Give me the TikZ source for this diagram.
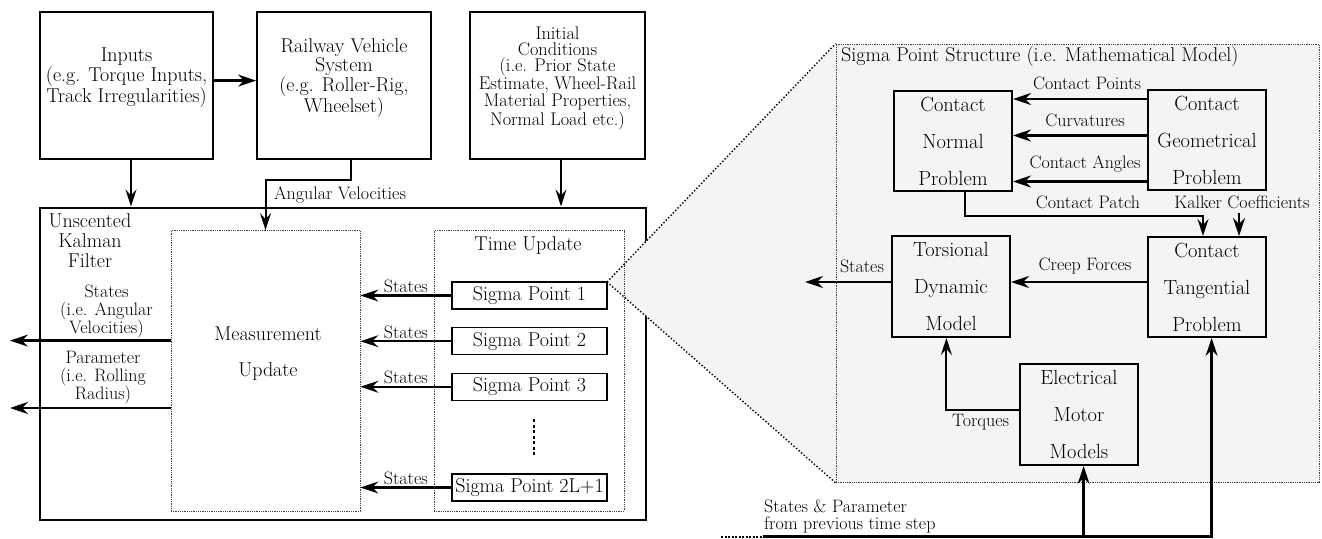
\documentclass[tikz,border=0pt]{standalone}
\usetikzlibrary{arrows.meta}
\definecolor{zoomgray}{RGB}{244,244,244}
\newcommand{\fntTop}{\fontsize{20}{16}\selectfont}
\newcommand{\fntInit}{\fontsize{18.3}{16.1}\selectfont}
\newcommand{\fntRight}{\fontsize{20.5}{37}\selectfont}
\newcommand{\fntMain}{\fontsize{20}{20}\selectfont}
\newcommand{\fntMeas}{\fontsize{20}{36}\selectfont}
\newcommand{\fntLbl}{\fontsize{18}{18}\selectfont}
\begin{document}
\begin{tikzpicture}[x=1pt,y=-1pt,
  box/.style={draw, line width=2pt, inner sep=0pt, align=center},
  spbox/.style={draw, line width=1.3pt, inner sep=0pt, fill=white, font=\fntTop,
     minimum width=155pt, minimum height=27pt},
  dotbox/.style={draw=black!75, densely dotted, line width=0.8pt, inner sep=0pt},
  txt/.style={inner sep=0pt, align=center},
  lbl/.style={inner sep=0pt, align=center, font=\fntLbl},
  arr/.style={-{Stealth[length=18pt,width=12pt,inset=6pt]}, line width=2.4pt},
  arrthin/.style={-{Stealth[length=17pt,width=11pt,inset=6pt]}, line width=2pt},
  zoomline/.style={line width=1.4pt, dash pattern=on 1.4pt off 2pt}
]
\useasboundingbox (0,0) rectangle (1322,538);

% ---------- top boxes ----------
\node[box, minimum width=173pt, minimum height=147pt] (inputs) at (126.5,85.5) {};
\node[txt, font=\fntTop] (inputsT) at (126.5,78) {Inputs\\(e.g. Torque Inputs,\\Track Irregularities)};
\node[box, minimum width=174pt, minimum height=147pt] (rail) at (344,85.5) {};
\node[txt, font=\fntTop] (railT) at (344,78) {Railway Vehicle\\System\\(e.g. Roller-Rig,\\Wheelset)};
\node[box, minimum width=175pt, minimum height=147pt] (init) at (557.5,85.5) {};
\node[txt, font=\fntInit] (initT) at (557.5,78) {Initial\\Conditions\\(i.e. Prior State\\Estimate, Wheel-Rail\\Material Properties,\\Normal Load etc.)};

% ---------- UKF ----------
\node[box, minimum width=606pt, minimum height=312.5pt] (ukf) at (343,363.75) {};
\node[txt, font=\fntMain] (ukfT) at (90,241) {Unscented\\Kalman\\Filter};

% ---------- zoom region ----------
\coordinate (apex) at (607,282);
\coordinate (spsNW) at (836,44);
\coordinate (spsSW) at (836,482.5);
\fill[zoomgray] (apex) -- (spsNW) -- (spsSW) -- cycle;
\node[dotbox, fill=zoomgray, minimum width=483pt, minimum height=438.5pt] (sps) at (1077.5,263.25) {};
\draw[zoomline] (apex) -- (sps.north west);
\draw[zoomline] (apex) -- (sps.south west);
\node[txt, font=\fntTop, anchor=west] (spsT) at (841,57) {Sigma Point Structure (i.e. Mathematical Model)};

% ---------- measurement / time update ----------
\node[dotbox, minimum width=189pt, minimum height=280.5pt] (meas) at (265.5,370.75) {};
\node[txt, font=\fntMeas] (measT) at (268,354) {Measurement\\Update};
\node[dotbox, minimum width=190pt, minimum height=280.5pt] (tu) at (529,370.75) {};
\node[txt, font=\fntTop] (tuT) at (528,246) {Time Update};

\node[spbox] (sp1) at (529.5,295.5) {Sigma Point 1};
\node[spbox] (sp2) at (529.5,341.25) {Sigma Point 2};
\node[spbox] (sp3) at (529.5,386.75) {Sigma Point 3};
\node[spbox] (spn) at (529.5,487.5) {Sigma Point 2L+1};
\draw[line width=2pt, dash pattern=on 3pt off 2.5pt] (534,419) -- (534,456);

\foreach \s in {sp1,sp2,sp3,spn}{
  \draw[arr] (\s.west) -- (meas.east |- \s.west) node[midway, above=1.5pt, lbl] {States};
}

% ---------- top connectors ----------
\coordinate (yA) at (0,80.6);
\draw[arr] (inputs.east |- yA) -- (rail.west |- yA);
\coordinate (xIn) at (131,0);
\draw[arrthin] (inputs.south -| xIn) -- (ukf.north -| xIn);
\coordinate (xRl) at (350.6,0);
\coordinate (yBend) at (0,180);
\draw[arrthin] (rail.south -| xRl) |- (meas.north |- yBend) -- (meas.north);
\node[lbl, anchor=west] (angT) at (274,195) {Angular Velocities};
\coordinate (xIc) at (561,0);
\draw[arrthin] (init.south -| xIc) -- (ukf.north -| xIc);

% ---------- outputs ----------
\coordinate (outS) at (10,340.6);
\coordinate (outP) at (10,408);
\draw[arr] (meas.west |- outS) -- (outS);
\draw[arr] (meas.west |- outP) -- (outP);
\node[lbl] (outST) at (106.5,311) {States\\(i.e. Angular\\Velocities)};
\node[lbl] (outPT) at (103,378) {Parameter\\(i.e. Rolling\\Radius)};

% ---------- right blocks ----------
\node[box, font=\fntRight, minimum width=118pt, minimum height=100pt] (cn) at (953,141) {Contact\\Normal\\Problem};
\node[box, font=\fntRight, minimum width=118pt, minimum height=100pt] (cg) at (1207,140) {Contact\\Geometrical\\Problem};
\node[box, font=\fntRight, minimum width=118pt, minimum height=101pt] (tor) at (951,286.5) {Torsional\\Dynamic\\Model};
\node[box, font=\fntRight, minimum width=118pt, minimum height=100pt] (ct) at (1207,287) {Contact\\Tangential\\Problem};
\node[box, font=\fntRight, minimum width=118pt, minimum height=101pt] (em) at (1079,414.5) {Electrical\\Motor\\Models};

\coordinate (y1) at (0,99);
\coordinate (y2) at (0,135.5);
\coordinate (y3) at (0,181.5);
\draw[arr] (cg.west |- y1) -- (cn.east |- y1);
\draw[arr] (cg.west |- y2) -- (cn.east |- y2);
\draw[arr] (cg.west |- y3) -- (cn.east |- y3);
\node[lbl] (l1) at (1087,83.5) {Contact Points};
\node[lbl] (l2) at (1085,120) {Curvatures};
\node[lbl] (l3) at (1085,163.5) {Contact Angles};

\coordinate (xCp) at (965,0);
\coordinate (cpB) at (1203,215.7);
\draw[arrthin] (cn.south -| xCp) |- (cpB) -- (ct.north -| cpB);
\node[lbl] (cpT) at (1088,202) {Contact Patch};
\coordinate (kk) at (1239,213);
\draw[arr] (kk) -- (ct.north -| kk);
\node[lbl] (kkT) at (1242,202) {Kalker Coefficients};

\coordinate (yCr) at (0,282);
\draw[arr] (ct.west |- yCr) -- (tor.east |- yCr);
\node[lbl] (crT) at (1085,266) {Creep Forces};
\coordinate (outR) at (805,282);
\draw[arr] (tor.west |- yCr) -- (outR);
\node[lbl] (stR) at (862,266) {States};

\coordinate (yTq) at (0,410);
\coordinate (xTq) at (946.4,0);
\draw[arrthin] (em.west |- yTq) -| (tor.south -| xTq);
\node[lbl] (tqT) at (980.6,421.7) {Torques};

% ---------- bottom feed ----------
\coordinate (bS) at (721,536.5);
\coordinate (bD) at (763,536.5);
\coordinate (bE) at (1083.6,536.5);
\coordinate (bT) at (1211.6,536.5);
\draw[line width=2pt, dash pattern=on 2pt off 1.5pt] (bS) -- (bD);
\draw[arr] (bD) -- (bT) -- (ct.south -| bT);
\draw[arr] (bE) -- (em.south -| bE);
\node[lbl, align=left, anchor=west, font=\fontsize{18}{17}\selectfont] (prevT) at (764,516) {States \& Parameter\\from previous time step};
\end{tikzpicture}
\end{document}
